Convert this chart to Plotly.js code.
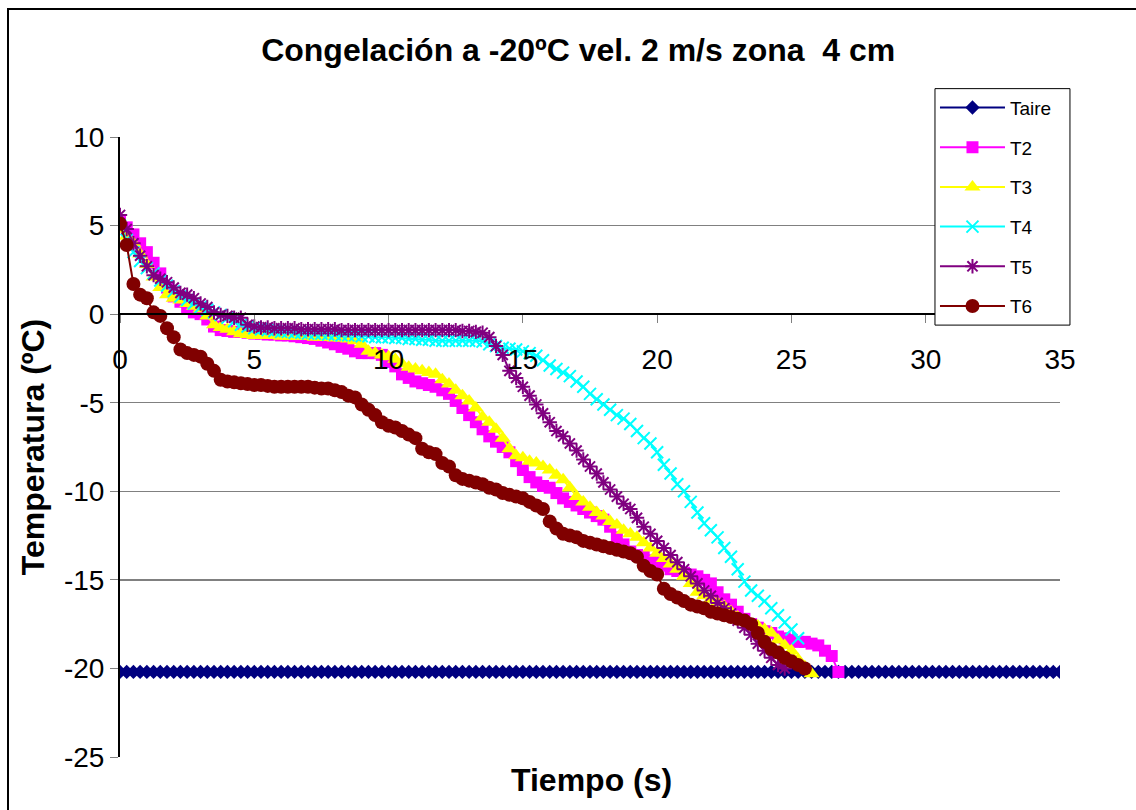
<!DOCTYPE html>
<html>
<head>
<meta charset="utf-8">
<script src="https://cdn.plot.ly/plotly-3.0.1.min.js"></script>
<style>
  html, body { margin: 0; padding: 0; background: #fff; }
  #wrap { position: relative; width: 1136px; height: 810px; overflow: hidden; }
  #chart { position: absolute; left: 0; top: 0; width: 1136px; height: 810px; }
  #frame { position: absolute; left: 7px; top: 8px; width: 1140px; height: 820px; border: 2px solid #000; pointer-events: none; box-sizing: border-box; }
</style>
</head>
<body>
<div id="wrap">
  <div id="chart"></div>
  <div id="frame"></div>
</div>
<script>
// Time axis (s), sampled every 0.25
const tiempo = [0,0.25,0.5,0.75,1,1.25,1.5,1.75,2,2.25,2.5,2.75,3,3.25,3.5,3.75,4,4.25,4.5,4.75,5,5.25,5.5,5.75,6,6.25,6.5,6.75,7,7.25,7.5,7.75,8,8.25,8.5,8.75,9,9.25,9.5,9.75,10,10.25,10.5,10.75,11,11.25,11.5,11.75,12,12.25,12.5,12.75,13,13.25,13.5,13.75,14,14.25,14.5,14.75,15,15.25,15.5,15.75,16,16.25,16.5,16.75,17,17.25,17.5,17.75,18,18.25,18.5,18.75,19,19.25,19.5,19.75,20,20.25,20.5,20.75,21,21.25,21.5,21.75,22,22.25,22.5,22.75,23,23.25,23.5,23.75,24,24.25,24.5,24.75,25,25.25,25.5,25.75,26,26.25,26.5,26.75,27,27.25,27.5,27.75,28,28.25,28.5,28.75,29,29.25,29.5,29.75,30,30.25,30.5,30.75,31,31.25,31.5,31.75,32,32.25,32.5,32.75,33,33.25,33.5,33.75,34,34.25,34.5,34.75,35];

const Taire = [-20.2,-20.2,-20.2,-20.2,-20.2,-20.2,-20.2,-20.2,-20.2,-20.2,-20.2,-20.2,-20.2,-20.2,-20.2,-20.2,-20.2,-20.2,-20.2,-20.2,-20.2,-20.2,-20.2,-20.2,-20.2,-20.2,-20.2,-20.2,-20.2,-20.2,-20.2,-20.2,-20.2,-20.2,-20.2,-20.2,-20.2,-20.2,-20.2,-20.2,-20.2,-20.2,-20.2,-20.2,-20.2,-20.2,-20.2,-20.2,-20.2,-20.2,-20.2,-20.2,-20.2,-20.2,-20.2,-20.2,-20.2,-20.2,-20.2,-20.2,-20.2,-20.2,-20.2,-20.2,-20.2,-20.2,-20.2,-20.2,-20.2,-20.2,-20.2,-20.2,-20.2,-20.2,-20.2,-20.2,-20.2,-20.2,-20.2,-20.2,-20.2,-20.2,-20.2,-20.2,-20.2,-20.2,-20.2,-20.2,-20.2,-20.2,-20.2,-20.2,-20.2,-20.2,-20.2,-20.2,-20.2,-20.2,-20.2,-20.2,-20.2,-20.2,-20.2,-20.2,-20.2,-20.2,-20.2,-20.2,-20.2,-20.2,-20.2,-20.2,-20.2,-20.2,-20.2,-20.2,-20.2,-20.2,-20.2,-20.2,-20.2,-20.2,-20.2,-20.2,-20.2,-20.2,-20.2,-20.2,-20.2,-20.2,-20.2,-20.2,-20.2,-20.2,-20.2,-20.2,-20.2,-20.2,-20.2,-20.2,-20.2];

const T2 = [5.2,4.9,4.5,4.0,3.5,2.9,2.3,1.5,1.0,0.7,0.3,0.1,0.0,-0.3,-0.7,-0.9,-0.95,-1.0,-1.0,-1.05,-1.1,-1.1,-1.15,-1.15,-1.2,-1.2,-1.25,-1.3,-1.35,-1.4,-1.5,-1.6,-1.7,-1.85,-1.95,-2.1,-2.2,-2.2,-2.2,-2.3,-2.7,-2.95,-3.4,-3.6,-3.8,-3.9,-4.0,-4.1,-4.3,-4.5,-4.9,-5.3,-5.7,-6.1,-6.5,-6.9,-7.2,-7.5,-7.8,-8.3,-8.8,-9.2,-9.5,-9.7,-9.8,-10.1,-10.4,-10.6,-10.8,-11.0,-11.2,-11.4,-11.6,-12.0,-12.6,-13.0,-13.4,-13.6,-13.7,-13.9,-14.0,-14.2,-14.4,-14.5,-14.6,-14.7,-14.8,-15.0,-15.2,-15.7,-16.1,-16.4,-16.8,-17.2,-17.5,-17.7,-17.9,-18.0,-18.2,-18.3,-18.4,-18.5,-18.5,-18.6,-18.7,-19.0,-19.3,-20.2];

const T3 = [4.8,4.4,4.0,3.4,2.8,2.1,1.5,1.1,0.9,0.8,0.6,0.45,0.3,-0.1,-0.6,-0.75,-0.85,-1.0,-1.1,-1.15,-1.2,-1.2,-1.2,-1.2,-1.25,-1.25,-1.25,-1.25,-1.25,-1.3,-1.3,-1.3,-1.35,-1.35,-1.4,-1.5,-1.7,-2.1,-2.2,-2.3,-2.4,-2.55,-2.8,-3.0,-3.1,-3.2,-3.3,-3.4,-3.7,-3.95,-4.3,-4.6,-4.9,-5.3,-5.8,-6.1,-6.5,-7.0,-7.6,-8.0,-8.1,-8.3,-8.4,-8.6,-8.8,-9.1,-9.35,-9.8,-10.3,-10.6,-10.9,-11.2,-11.4,-11.7,-11.9,-12.2,-12.4,-12.6,-12.9,-13.2,-13.5,-13.8,-14.1,-14.4,-14.8,-15.2,-15.7,-15.9,-16.1,-16.3,-16.5,-16.8,-17.1,-17.3,-17.5,-17.6,-17.8,-18.0,-18.4,-18.7,-19.0,-19.5,-19.9,-20.3];

const T4 = [5.0,4.2,3.5,3.0,2.6,2.3,1.9,1.6,1.3,1.0,0.8,0.6,0.4,0.25,0.1,-0.05,-0.2,-0.4,-0.6,-0.7,-0.8,-0.85,-0.9,-0.95,-1.0,-1.0,-1.05,-1.05,-1.1,-1.1,-1.1,-1.15,-1.15,-1.2,-1.2,-1.2,-1.25,-1.25,-1.3,-1.3,-1.3,-1.35,-1.35,-1.4,-1.4,-1.45,-1.45,-1.5,-1.5,-1.5,-1.5,-1.5,-1.5,-1.5,-1.55,-1.7,-1.8,-1.9,-1.95,-2.0,-2.1,-2.2,-2.35,-2.6,-2.9,-3.1,-3.3,-3.5,-3.8,-4.1,-4.5,-4.8,-5.1,-5.4,-5.7,-5.9,-6.2,-6.6,-7.0,-7.3,-7.8,-8.5,-9.0,-9.6,-10.0,-10.6,-11.2,-11.8,-12.2,-12.6,-13.2,-13.7,-14.4,-15.1,-15.6,-15.9,-16.2,-16.6,-17.0,-17.4,-17.8,-18.3];

const T5 = [5.6,4.8,4.0,3.3,2.7,2.2,2.0,1.8,1.5,1.2,1.1,0.9,0.6,0.4,0.1,-0.05,-0.1,-0.2,-0.2,-0.6,-0.7,-0.75,-0.75,-0.8,-0.8,-0.8,-0.8,-0.85,-0.85,-0.85,-0.85,-0.85,-0.85,-0.9,-0.9,-0.9,-0.9,-0.9,-0.9,-0.9,-0.9,-0.9,-0.9,-0.9,-0.9,-0.9,-0.9,-0.9,-0.9,-0.9,-0.9,-0.95,-0.95,-1.0,-1.05,-1.3,-1.8,-2.3,-3.2,-3.6,-4.1,-4.6,-5.1,-5.6,-6.1,-6.6,-6.9,-7.3,-7.7,-8.2,-8.6,-9.0,-9.5,-9.9,-10.3,-10.7,-11.0,-11.5,-12.0,-12.4,-12.8,-13.2,-13.6,-14.0,-14.4,-14.8,-15.2,-15.6,-15.9,-16.3,-16.6,-16.9,-17.3,-17.7,-18.1,-18.6,-19.0,-19.4,-19.8,-20.0];

const T6 = [5.1,3.9,1.7,1.1,0.9,0.1,-0.1,-0.8,-1.3,-2.0,-2.2,-2.3,-2.4,-2.8,-3.2,-3.7,-3.8,-3.85,-3.9,-3.95,-4.0,-4.0,-4.05,-4.1,-4.1,-4.1,-4.1,-4.1,-4.1,-4.15,-4.2,-4.2,-4.3,-4.4,-4.6,-4.7,-5.1,-5.4,-5.7,-6.1,-6.3,-6.4,-6.6,-6.8,-7.0,-7.6,-7.8,-7.9,-8.4,-8.6,-9.1,-9.3,-9.4,-9.5,-9.6,-9.8,-9.9,-10.1,-10.2,-10.3,-10.4,-10.6,-10.8,-11.0,-11.7,-12.1,-12.4,-12.5,-12.6,-12.8,-12.9,-13.0,-13.1,-13.2,-13.3,-13.4,-13.5,-13.7,-14.2,-14.5,-14.7,-15.5,-15.8,-16.0,-16.2,-16.4,-16.5,-16.6,-16.8,-16.9,-17.0,-17.1,-17.2,-17.3,-17.5,-18.0,-18.5,-18.9,-19.1,-19.4,-19.6,-19.8,-20.0];

const xTicks = [0,5,10,15,20,25,30,35];
const yTicks = [10,5,0,-5,-10,-15,-20,-25];

const FONT = 'Arial, "Liberation Sans", sans-serif';

function mk(name, y, color, symbol, size, lw) {
  return {
    type: 'scatter', mode: 'lines+markers', name: name, legendgroup: name,
    x: tiempo.slice(0, y.length), y: y,
    line: {color: color, width: 2},
    marker: {symbol: symbol, size: size, color: color, line: {width: lw || 0, color: color}},
    hoverinfo: 'skip'
  };
}

const traces = [
  mk('Taire', Taire, '#000080', 'diamond', 11),
  mk('T2', T2, '#FF00FF', 'square', 12),
  mk('T3', T3, '#FFFF00', 'triangle-up', 14),
  mk('T4', T4, '#00FFFF', 'x-thin', 12, 2),
  mk('T5', T5, '#800080', 'asterisk', 12, 2),
  mk('T6', T6, '#800000', 'circle', 14)
];

const layout = {
  width: 1136, height: 810,
  margin: {l: 120, r: 76, t: 137, b: 53, pad: 0},
  paper_bgcolor: '#fff', plot_bgcolor: '#fff',
  font: {family: FONT, color: '#000', size: 28},
  showlegend: true,
  title: {text: 'Congelación a -20ºC vel. 2 m/s zona&nbsp; 4 cm', font: {family: FONT, size: 32, color: '#000', weight: 'bold'}, x: 0.509, xanchor: 'center', y: 0.938, yanchor: 'middle'},
  xaxis: {
    range: [0, 35], tickvals: xTicks, ticktext: xTicks.map(String),
    anchor: 'free', position: 25/35,
    showline: true, linecolor: '#000', linewidth: 2,
    ticks: 'outside', ticklen: 8, tickcolor: '#808080', tickwidth: 1,
    ticklabelstandoff: 12,
    showgrid: false, zeroline: false,
    tickfont: {family: FONT, size: 28, color: '#000'}
  },
  yaxis: {
    range: [-25, 10], tickvals: yTicks, ticktext: yTicks.map(String),
    showline: true, linecolor: '#000', linewidth: 2,
    ticks: 'outside', ticklen: 8, tickcolor: '#808080', tickwidth: 1,
    showgrid: true, gridcolor: '#808080', gridwidth: 1.5,
    zeroline: false,
    tickfont: {family: FONT, size: 28, color: '#000'},
    title: {text: 'Temperatura (ºC)', font: {family: FONT, size: 32, color: '#000', weight: 'bold'}, standoff: 10}
  },
  legend: {
    x: 0.867, y: 1.078, xanchor: 'left', yanchor: 'top',
    bgcolor: 'rgba(0,0,0,0)', borderwidth: 0,
    font: {family: FONT, size: 19, color: '#000'},
    tracegroupgap: 12, itemwidth: 65
  },
  shapes: [{
    type: 'rect', xref: 'paper', yref: 'paper', layer: 'above',
    x0: 0.867, x1: 1.0106, y0: 0.6966, y1: 1.078,
    fillcolor: '#fff', line: {color: '#000', width: 1}
  }],
  annotations: [{
    text: '<b>Tiempo (s)</b>', xref: 'paper', yref: 'paper', x: 0.502, y: -0.037,
    xanchor: 'center', yanchor: 'middle', showarrow: false,
    font: {family: FONT, size: 32, color: '#000'}
  }]
};

Plotly.newPlot('chart', traces, layout, {staticPlot: true, displayModeBar: false});
</script>
</body>
</html>
